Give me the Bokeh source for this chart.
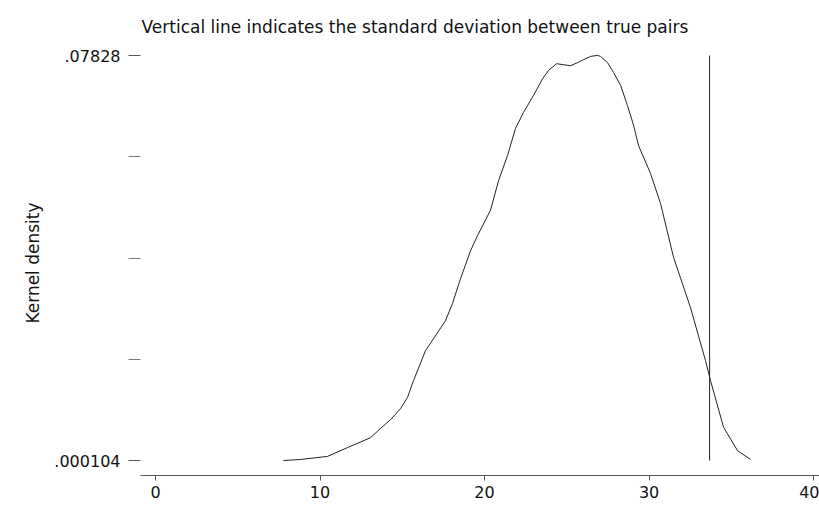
from bokeh.plotting import figure
from bokeh.models import FixedTicker, Range1d
from bokeh.embed import file_html
from bokeh.resources import INLINE

# ---- data ----
density_x = [7.78, 8.81, 10.46, 11.67, 13.07, 13.68, 14.29, 14.89, 15.32, 15.68,
             16.41, 17.63, 18.05, 18.54, 19.15, 19.57, 20.36, 20.85, 21.40, 21.88,
             22.37, 22.98, 23.53, 23.89, 24.38, 24.80, 25.23, 25.65, 26.02, 26.44,
             26.87, 27.05, 27.48, 27.84, 28.27, 28.69, 29.06, 29.36, 30.09, 30.70,
             31.49, 32.52, 33.43, 33.74, 34.53, 35.38, 36.17]
density_y = [0.0001, 0.0003, 0.0009, 0.0026, 0.0045, 0.0063, 0.0080, 0.0101, 0.0123, 0.0155,
             0.0213, 0.0271, 0.0304, 0.0352, 0.0406, 0.0435, 0.0484, 0.0541, 0.0590, 0.0642,
             0.0673, 0.0706, 0.0738, 0.0754, 0.0767, 0.0765, 0.0763, 0.0769, 0.0775, 0.0781,
             0.0783, 0.0781, 0.0769, 0.0750, 0.0725, 0.0686, 0.0648, 0.0609, 0.0555, 0.0497,
             0.0393, 0.0296, 0.0194, 0.0155, 0.0065, 0.0020, 0.0003]
sd_true_pairs = 33.68
y_min_label = 0.000104
y_max_label = 0.07828
y_tick_labels = [".000104", ".07828"]
x_ticks = [0, 10, 20, 30, 40]

title_text = "Vertical line indicates the standard deviation  between true pairs"
y_axis_label = "Kernel density"

FONT = "DejaVu Sans"

step = (y_max_label - y_min_label) / 4.0
px = (y_max_label - y_min_label) / 405.0   # data units per screen pixel (y)
x_start, x_end = -0.912, 40.36
y_start, y_end = y_min_label - 15 * px, y_max_label + 5 * px

p = figure(width=819, height=506, output_backend="svg", toolbar_location=None,
           x_range=Range1d(x_start, x_end),
           y_range=Range1d(y_start, y_end),
           min_border_left=140, min_border_right=0, min_border_top=50,
           min_border_bottom=31)

p.title.text = title_text
p.title.align = "left"
p.title.offset = 1
p.title.standoff = 28
p.title.text_font = FONT
p.title.text_font_size = "17px"
p.title.text_font_style = "normal"
p.title.text_color = "#111111"

p.line(density_x, density_y, line_color="#222222", line_width=1)
p.segment(x0=[sd_true_pairs], y0=[y_min_label], x1=[sd_true_pairs], y1=[y_max_label],
          line_color="#222222", line_width=1)

p.grid.visible = False
p.outline_line_color = None
p.background_fill_color = "white"
p.border_fill_color = "white"

# x axis
xa = p.xaxis[0]
xa.ticker = FixedTicker(ticks=x_ticks)
xa.axis_line_color = "#555555"
xa.major_tick_line_color = "#555555"
xa.major_tick_out = 5
xa.major_tick_in = 0
xa.minor_tick_line_color = None
xa.major_label_standoff = 5
xa.major_label_text_font = FONT
xa.major_label_text_font_size = "16px"
xa.major_label_text_color = "#111111"

# y axis
ya = p.yaxis[0]
ya.ticker = FixedTicker(ticks=[y_min_label, y_max_label],
                        minor_ticks=[y_min_label + step, y_min_label + 2 * step,
                                     y_min_label + 3 * step])
ya.major_label_overrides = {y_min_label: y_tick_labels[0], y_max_label: y_tick_labels[1]}
ya.axis_line_color = None
ya.major_tick_line_color = "#555555"
ya.minor_tick_line_color = "#777777"
ya.major_tick_out = 12
ya.major_tick_in = 0
ya.minor_tick_out = 12
ya.minor_tick_in = 0
ya.major_label_standoff = 8
ya.major_label_text_font = FONT
ya.major_label_text_font_size = "16px"
ya.major_label_text_color = "#111111"
ya.axis_label = y_axis_label
ya.axis_label_text_font = FONT
ya.axis_label_text_font_size = "17px"
ya.axis_label_text_font_style = "normal"
ya.axis_label_text_color = "#111111"
ya.axis_label_standoff = 8

open("out.html", "w").write(file_html(p, INLINE))
